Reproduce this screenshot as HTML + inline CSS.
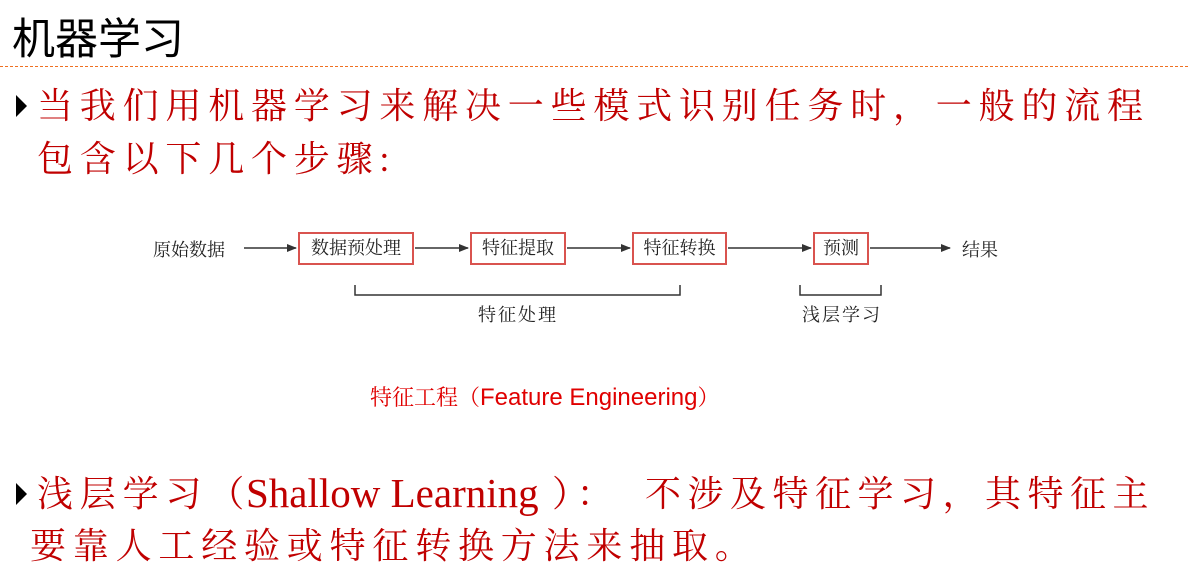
<!DOCTYPE html>
<html><head><meta charset="utf-8"><style>
body{margin:0;width:1188px;height:586px;background:#fff;position:relative;overflow:hidden}
.a{position:absolute;white-space:nowrap}
.t{font-family:"Liberation Sans","Noto Sans CJK SC",sans-serif;font-size:43px;color:#000;left:12px;top:5px}
.r{font-family:"Liberation Serif","Noto Serif CJK SC",serif;color:#c00000;font-size:36px;letter-spacing:6.8px;line-height:40px}
.tri{position:absolute;width:0;height:0;border-top:11px solid transparent;border-bottom:11px solid transparent;border-left:11px solid #000}
.d{font-family:"Liberation Serif","Noto Serif CJK SC",serif;font-size:18px;color:#222}
.box{position:absolute;border:2px solid #d9534f;box-sizing:border-box;font-family:"Liberation Serif","Noto Serif CJK SC",serif;font-size:18px;color:#222;text-align:center;line-height:28px}
</style></head><body>
<div class="a t">机器学习</div>
<div class="a" style="left:0;top:66px;width:1188px;border-top:1.5px dashed #f07020"></div>

<div class="tri" style="left:16px;top:95px"></div>
<div class="a r" style="left:37px;top:86px">当我们用机器学习来解决一些模式识别任务时，一般的流程</div>
<div class="a r" style="left:37px;top:139px">包含以下几个步骤:</div>

<div class="a d" style="left:153px;top:236px">原始数据</div>
<div class="box" style="left:298px;top:232px;width:116px;height:33px">数据预处理</div>
<div class="box" style="left:470px;top:232px;width:96px;height:33px">特征提取</div>
<div class="box" style="left:632px;top:232px;width:95px;height:33px">特征转换</div>
<div class="box" style="left:813px;top:232px;width:56px;height:33px">预测</div>
<div class="a d" style="left:962px;top:236px">结果</div>
<svg class="a" style="left:0;top:0" width="1188" height="586">
<defs><marker id="m" markerWidth="10" markerHeight="8" refX="9" refY="4" orient="auto" markerUnits="userSpaceOnUse"><path d="M0,0L10,4L0,8z" fill="#333"/></marker></defs>
<g stroke="#333" stroke-width="1.5" fill="none">
<line x1="244" y1="248" x2="296" y2="248" marker-end="url(#m)"/>
<line x1="415" y1="248" x2="468" y2="248" marker-end="url(#m)"/>
<line x1="567" y1="248" x2="630" y2="248" marker-end="url(#m)"/>
<line x1="728" y1="248" x2="811" y2="248" marker-end="url(#m)"/>
<line x1="870" y1="248" x2="950" y2="248" marker-end="url(#m)"/>
<path d="M355,285V295H680V285"/>
<path d="M800,285V295H881V285"/>
</g>
</svg>
<div class="a d" style="left:478px;top:301px;letter-spacing:2px">特征处理</div>
<div class="a d" style="left:802px;top:301px;letter-spacing:2px">浅层学习</div>

<div class="a" style="left:370px;top:381px;font-size:22px;color:#e00000;font-family:'Liberation Serif','Noto Serif CJK SC',serif">特征工程（<span style="font-family:'Liberation Sans',sans-serif;font-size:24px">Feature Engineering</span>）</div>

<div class="tri" style="left:16px;top:483px"></div>
<div class="a r" style="left:37px;top:474px">浅层学习（</div>
<div class="a" style="left:246px;top:473px;font-family:'Liberation Serif',serif;font-size:41px;color:#c00000;line-height:40px">Shallow Learning</div>
<div class="a r" style="left:552px;top:474px">）：</div>
<div class="a r" style="left:645px;top:474px;letter-spacing:6.5px">不涉及特征学习，其特征主</div>
<div class="a r" style="left:30px;top:526px">要靠人工经验或特征转换方法来抽取。</div>
</body></html>
